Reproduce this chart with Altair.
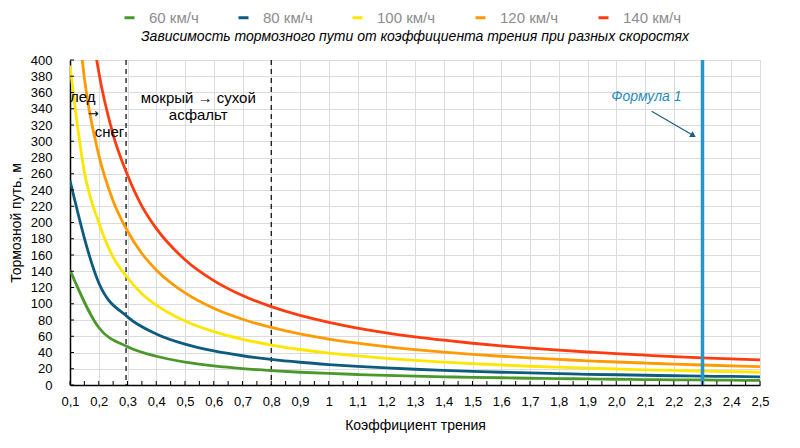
import altair as alt
import pandas as pd

# ---- data ----
mu = [0.1, 0.2, 0.3, 0.4, 0.5, 0.6, 0.7, 0.8, 0.9, 1.0, 1.1, 1.2, 1.3,
      1.4, 1.5, 1.6, 1.7, 1.8, 1.9, 2.0, 2.1, 2.2, 2.3, 2.4, 2.5]
mu_fine = [0.1, 0.15, 0.2, 0.25, 0.3, 0.35, 0.4, 0.5, 0.6, 0.7, 0.8, 0.9, 1.0, 1.1, 1.2, 1.3,
           1.4, 1.5, 1.6, 1.7, 1.8, 1.9, 2.0, 2.1, 2.2, 2.3, 2.4, 2.5]
s60 = [141.6, 70.8, 47.2, 35.4, 28.3, 23.6, 20.2, 17.7, 15.7, 14.2, 12.9, 11.8, 10.9,
       10.1, 9.4, 8.9, 8.3, 7.9, 7.5, 7.1, 6.7, 6.4, 6.2, 5.9, 5.7]
s80 = [251.7, 125.8, 83.9, 62.9, 50.3, 42.0, 36.0, 31.5, 28.0, 25.2, 22.9, 21.0, 19.4,
       18.0, 16.8, 15.7, 14.8, 14.0, 13.2, 12.6, 12.0, 11.4, 10.9, 10.5, 10.1]
s100 = [393.3, 262.0, 200.0, 157.3, 132.0, 112.4, 98.3, 78.7, 65.6, 56.2, 49.2, 43.7, 39.3, 35.8, 32.8, 30.3,
        28.1, 26.2, 24.6, 23.1, 21.9, 20.7, 19.7, 18.7, 17.9, 17.1, 16.4, 15.7]
s120 = [566.3, 377.5, 283.2, 226.5, 189.5, 161.8, 141.6, 113.3, 94.4, 80.9, 70.8, 62.9, 56.6, 51.5, 47.2, 43.6,
        40.5, 37.8, 35.4, 33.3, 31.5, 29.8, 28.3, 27.0, 25.7, 24.6, 23.6, 22.7]
s140 = [770.8, 513.9, 385.4, 308.3, 258.5, 220.2, 192.7, 154.2, 128.5, 110.1, 96.4, 85.6, 77.1, 70.1, 64.2, 59.3,
        55.1, 51.4, 48.2, 45.3, 42.8, 40.6, 38.5, 36.7, 35.0, 33.5, 32.1, 30.8]
speeds = ["60 км/ч", "80 км/ч", "100 км/ч", "120 км/ч", "140 км/ч"]
series = [(mu, s60), (mu, s80), (mu_fine, s100), (mu_fine, s120), (mu_fine, s140)]
colors = ["#4a982b", "#0e5b80", "#ffe600", "#ff9a00", "#ff3c10"]

y_ticks = list(range(0, 401, 20))
x_minor = [round(0.1 + 0.05 * i, 2) for i in range(49)]
zone_lines = [0.295, 0.8]
formula_mu = [2.3]

title_text = "Зависимость тормозного пути от коэффициента трения при разных скоростях"
left_notes = ["лед", "снег"]
left_mu = [0.1, 0.186]
left_val = [354, 311]
arrow_note = ["→"]
arrow_mu = [0.181]
arrow_val = [333.5]
center_notes = ["мокрый → сухой", "асфальт"]
center_mu = [0.546, 0.546]
center_val = [353, 332]
formula_note = ["Формула 1"]
formula_note_mu = [2.105]
formula_note_val = [354.5]
pointer = {"mu": [2.123], "val": [337], "mu2": [2.268], "val2": [307]}

FONT = "Liberation Sans"
W, H = 690, 325

rows = []
for sp, (xs, vals) in zip(speeds, series):
    for m, v in zip(xs, vals):
        rows.append({"mu": m, "val": v, "speed": sp})
df = pd.DataFrame(rows)

xscale = alt.Scale(domain=[0.1, 2.5], nice=False, zero=False)
yscale = alt.Scale(domain=[0, 400], nice=False)
xaxis = alt.Axis(values=mu, title="Коэффициент трения",
                 labelExpr="datum.value == 1 ? '1' : replace(format(datum.value, '.1f'), '.', ',')",
                 grid=True, gridColor="#dcdcdc", gridWidth=1, ticks=False, tickSize=0,
                 domainColor="black", domainWidth=1.5, labelFont=FONT, labelFontSize=13,
                 labelColor="black", labelPadding=10, labelFlush=False, labelOverlap=False,
                 titleFont=FONT, titleFontSize=14, titleFontWeight="normal",
                 titleColor="black", titlePadding=10)
yaxis = alt.Axis(values=y_ticks, title="Тормозной путь, м", format="d",
                 grid=True, gridColor="#dcdcdc", gridWidth=1, ticks=False, tickSize=0,
                 domainColor="black", domainWidth=1.5, labelFont=FONT, labelFontSize=13,
                 labelColor="black", labelPadding=18, labelFlush=False, labelOverlap=False,
                 titleFont=FONT, titleFontSize=14, titleFontWeight="normal",
                 titleColor="black", titlePadding=7)


def X(field="mu"):
    return alt.X(f"{field}:Q", scale=xscale, axis=xaxis)


def Y(field="val"):
    return alt.Y(f"{field}:Q", scale=yscale, axis=yaxis)


lines = alt.Chart(df).mark_line(interpolate="monotone", strokeWidth=2.8, clip=True).encode(
    x=X(), y=Y(),
    color=alt.Color("speed:N", scale=alt.Scale(domain=speeds, range=colors), sort=speeds,
                    legend=alt.Legend(orient="none", legendX=52, legendY=-50, direction="horizontal",
                                      title=None, symbolType="stroke", symbolStrokeWidth=3,
                                      symbolSize=100, labelFont=FONT, labelFontSize=15,
                                      labelColor="#8c8c8c", columnPadding=33, labelOffset=12,
                                      padding=0)),
    detail="speed:N",
)

zones = alt.Chart(pd.DataFrame({"mu": zone_lines})).mark_rule(
    color="black", strokeWidth=1.2, strokeDash=[5, 4]).encode(x=X())

formula_line = alt.Chart(pd.DataFrame({"mu": formula_mu})).mark_rule(
    color="#2596c9", strokeWidth=3.5).encode(x=X())

xticks = alt.Chart(pd.DataFrame({"mu": x_minor})).mark_rule(color="black", strokeWidth=1).encode(
    x=X(), y=alt.value(H), y2=alt.value(H - 4))
yticks = alt.Chart(pd.DataFrame({"val": y_ticks})).mark_rule(color="black", strokeWidth=1).encode(
    y=Y(), x=alt.value(0), x2=alt.value(4))

title_mark = alt.Chart(pd.DataFrame({"t": [title_text]})).mark_text(
    align="center", baseline="middle", font=FONT, fontSize=14, fontStyle="italic", color="black").encode(
    x=alt.value(W / 2), y=alt.value(-23.5), text="t:N")

t_left = alt.Chart(pd.DataFrame({"mu": left_mu, "val": left_val, "t": left_notes})).mark_text(
    align="left", baseline="middle", font=FONT, fontSize=15, color="black").encode(x=X(), y=Y(), text="t:N")
t_arrow = alt.Chart(pd.DataFrame({"mu": arrow_mu, "val": arrow_val, "t": arrow_note})).mark_text(
    align="center", baseline="middle", font="DejaVu Sans", fontSize=13, color="black").encode(x=X(), y=Y(), text="t:N")
t_center = alt.Chart(pd.DataFrame({"mu": center_mu, "val": center_val, "t": center_notes})).mark_text(
    align="center", baseline="middle", font=FONT, fontSize=15, color="black").encode(x=X(), y=Y(), text="t:N")
t_formula = alt.Chart(pd.DataFrame({"mu": formula_note_mu, "val": formula_note_val, "t": formula_note})).mark_text(
    align="center", baseline="middle", font=FONT, fontSize=14, fontStyle="italic", color="#2a8ab9").encode(
    x=X(), y=Y(), text="t:N")

pdf = pd.DataFrame(pointer)
arrow_line = alt.Chart(pdf).mark_rule(color="#1b5f80", strokeWidth=1.2).encode(
    x=X(), y=Y(), x2="mu2:Q", y2="val2:Q")
arrow_head = alt.Chart(pdf).mark_point(shape="triangle-up", filled=True, size=45, angle=121.5,
                                       color="#1b5f80", opacity=1).encode(x=X("mu2"), y=Y("val2"))

chart = alt.layer(
    zones, lines, formula_line, xticks, yticks, title_mark, t_left, t_arrow, t_center, t_formula,
    arrow_line, arrow_head
).properties(
    width=W, height=H,
    autosize=alt.AutoSizeParams(type="none"),
    padding={"left": 62, "top": 52, "right": 30, "bottom": 50},
).configure_view(stroke=None).configure(background="white")

chart.save("out.html", embed_options={"renderer": "svg", "actions": False})
